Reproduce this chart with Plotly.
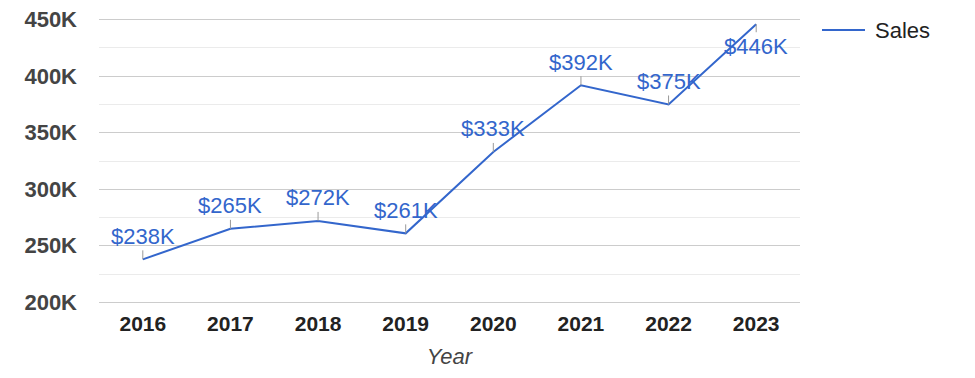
import plotly.graph_objects as go

years = ["2016", "2017", "2018", "2019", "2020", "2021", "2022", "2023"]
sales = [238000, 265000, 272000, 261000, 333000, 392000, 375000, 446000]
labels = ["$238K", "$265K", "$272K", "$261K", "$333K", "$392K", "$375K", "$446K"]
label_below = [False, False, False, False, False, False, False, True]
y_tickvals = [200000, 250000, 300000, 350000, 400000, 450000]
y_ticktext = ["200K", "250K", "300K", "350K", "400K", "450K"]
series_name = "Sales"

BLUE = "#3366CC"
FONT = "Liberation Sans, Arial, sans-serif"

L, R, T, B = 99, 175, 18, 74
W, H = 975, 378
PW, PH = W - L - R, H - T - B


def px_x(p):
    return (p - L) / PW


def px_y(p):
    return (H - B - p) / PH


fig = go.Figure()
fig.add_trace(go.Scatter(
    x=years, y=sales, mode="lines", name=series_name,
    line=dict(color=BLUE, width=2), hoverinfo="skip", showlegend=False,
))

for i, (v, t, below) in enumerate(zip(sales, labels, label_below)):
    fig.add_annotation(
        x=i, y=v, xref="x", yref="y", text=t, showarrow=True, arrowhead=0,
        arrowwidth=1, arrowcolor="#999999", ax=0, ay=22 if below else -23,
        font=dict(family=FONT, size=22, color=BLUE),
    )

# legend (drawn manually to match the long legend swatch)
fig.add_shape(type="line", xref="paper", yref="paper",
              x0=px_x(822), x1=px_x(865), y0=px_y(30), y1=px_y(30),
              line=dict(color=BLUE, width=2))
fig.add_annotation(xref="paper", yref="paper", x=px_x(873), y=px_y(30),
                   xanchor="left", yanchor="middle", showarrow=False,
                   text=series_name, font=dict(family=FONT, size=22, color="#222222"))

fig.update_layout(
    width=W, height=H,
    margin=dict(l=L, r=R, t=T, b=B, autoexpand=False),
    paper_bgcolor="white", plot_bgcolor="white",
    font=dict(family=FONT, size=20, color="#222222"),
    showlegend=False,
    hovermode=False,
    xaxis=dict(
        type="category", range=[-0.5, 7.5], showgrid=False, zeroline=False,
        showline=False, ticks="", automargin=False, fixedrange=True,
        tickfont=dict(family=FONT, size=21, color="#222222", weight="bold"),
        ticklabelstandoff=5,
        title=dict(text="<i>Year</i>", font=dict(family=FONT, size=22, color="#444444"), standoff=14),
    ),
    yaxis=dict(
        range=[198500, 451500], tickvals=y_tickvals, ticktext=y_ticktext,
        showgrid=True, gridcolor="#cccccc", gridwidth=1, zeroline=False,
        showline=False, ticks="", automargin=False, fixedrange=True,
        tickfont=dict(family=FONT, size=22, color="#444444", weight="bold"),
        ticklabelstandoff=21,
        minor=dict(dtick=25000, tick0=0, showgrid=True, gridcolor="#ebebeb", gridwidth=1),
    ),
)

fig.write_html(
    "out.html",
    config={"displayModeBar": False, "staticPlot": True},
    post_script="document.body.style.margin='0px';document.body.style.overflow='hidden';",
)
